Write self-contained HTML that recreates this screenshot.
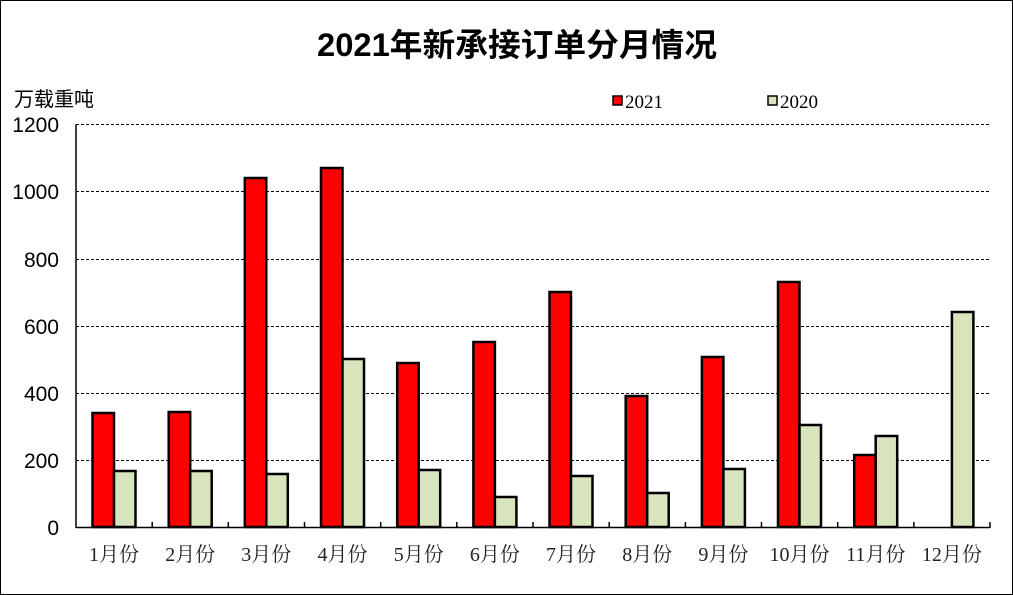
<!DOCTYPE html>
<html><head><meta charset="utf-8"><style>
html,body{margin:0;padding:0;background:#fff}
svg{display:block}
</style></head><body>
<svg width="1013" height="595" xmlns="http://www.w3.org/2000/svg">
<rect x="0.5" y="0.5" width="1012" height="594" fill="#fff" stroke="#000" stroke-width="1"/>
<text x="317" y="56" textLength="400" lengthAdjust="spacingAndGlyphs" font-family="'Liberation Sans','Noto Sans CJK SC',sans-serif" font-weight="bold" font-size="32">2021年新承接订单分月情况</text>
<text x="14" y="106" font-family="'Liberation Sans','Noto Sans CJK SC',sans-serif" font-size="20">万载重吨</text>
<g font-family="'Liberation Sans',sans-serif" font-size="21" text-anchor="end">
<text x="59" y="132">1200</text><text x="59" y="199">1000</text><text x="59" y="267">800</text>
<text x="59" y="334">600</text><text x="59" y="401">400</text><text x="59" y="468">200</text><text x="59" y="535">0</text>
</g>
<g stroke="#000" stroke-width="1" stroke-dasharray="3,2">
<line x1="76" y1="124.5" x2="990" y2="124.5"/><line x1="76" y1="191.5" x2="990" y2="191.5"/>
<line x1="76" y1="259.5" x2="990" y2="259.5"/><line x1="76" y1="326.5" x2="990" y2="326.5"/>
<line x1="76" y1="393.5" x2="990" y2="393.5"/><line x1="76" y1="460.5" x2="990" y2="460.5"/>
</g>
<g stroke="#000" stroke-width="2.5">
<rect x="92.5" y="413" width="21.5" height="114" fill="#f00"/><rect x="114" y="471" width="21.5" height="56" fill="#d8e4bc"/>
<rect x="168.7" y="412" width="21.5" height="115" fill="#f00"/><rect x="190.2" y="471" width="21.5" height="56" fill="#d8e4bc"/>
<rect x="244.8" y="178" width="21.5" height="349" fill="#f00"/><rect x="266.3" y="474" width="21.5" height="53" fill="#d8e4bc"/>
<rect x="321" y="168" width="21.5" height="359" fill="#f00"/><rect x="342.5" y="359" width="21.5" height="168" fill="#d8e4bc"/>
<rect x="397.2" y="363" width="21.5" height="164" fill="#f00"/><rect x="418.7" y="470" width="21.5" height="57" fill="#d8e4bc"/>
<rect x="473.4" y="342" width="21.5" height="185" fill="#f00"/><rect x="494.9" y="497" width="21.5" height="30" fill="#d8e4bc"/>
<rect x="549.5" y="292" width="21.5" height="235" fill="#f00"/><rect x="571" y="476" width="21.5" height="51" fill="#d8e4bc"/>
<rect x="625.7" y="396" width="21.5" height="131" fill="#f00"/><rect x="647.2" y="493" width="21.5" height="34" fill="#d8e4bc"/>
<rect x="701.9" y="357" width="21.5" height="170" fill="#f00"/><rect x="723.4" y="469" width="21.5" height="58" fill="#d8e4bc"/>
<rect x="778" y="282" width="21.5" height="245" fill="#f00"/><rect x="799.5" y="425" width="21.5" height="102" fill="#d8e4bc"/>
<rect x="854.2" y="455" width="21.5" height="72" fill="#f00"/><rect x="875.7" y="436" width="21.5" height="91" fill="#d8e4bc"/>
<rect x="951.9" y="312" width="21.5" height="215" fill="#d8e4bc"/>
</g>
<g stroke="#000" stroke-width="1.5">
<line x1="76" y1="124" x2="76" y2="528"/>
<line x1="76" y1="527.5" x2="990" y2="527.5"/>
<line x1="152.2" y1="522" x2="152.2" y2="528"/><line x1="228.3" y1="522" x2="228.3" y2="528"/>
<line x1="304.5" y1="522" x2="304.5" y2="528"/><line x1="380.7" y1="522" x2="380.7" y2="528"/>
<line x1="456.8" y1="522" x2="456.8" y2="528"/><line x1="533" y1="522" x2="533" y2="528"/>
<line x1="609.2" y1="522" x2="609.2" y2="528"/><line x1="685.4" y1="522" x2="685.4" y2="528"/>
<line x1="761.5" y1="522" x2="761.5" y2="528"/><line x1="837.7" y1="522" x2="837.7" y2="528"/>
<line x1="913.9" y1="522" x2="913.9" y2="528"/><line x1="990" y1="522" x2="990" y2="528"/>
</g>
<g font-family="'Liberation Serif','Noto Serif CJK SC',serif" font-size="20" text-anchor="middle" fill="#222">
<text x="114" y="561">1月份</text><text x="190.2" y="561">2月份</text><text x="266.3" y="561">3月份</text>
<text x="342.5" y="561">4月份</text><text x="418.7" y="561">5月份</text><text x="494.9" y="561">6月份</text>
<text x="571" y="561">7月份</text><text x="647.2" y="561">8月份</text><text x="723.4" y="561">9月份</text>
<text x="799.5" y="561">10月份</text><text x="875.7" y="561">11月份</text><text x="951.9" y="561">12月份</text>
</g>
<rect x="613" y="96" width="9" height="9" fill="#f00" stroke="#000" stroke-width="1.5"/>
<text x="625" y="108" font-family="'Liberation Serif',serif" font-size="19">2021</text>
<rect x="768" y="96" width="9" height="9" fill="#d8e4bc" stroke="#000" stroke-width="1.5"/>
<text x="780" y="108" font-family="'Liberation Serif',serif" font-size="19">2020</text>
</svg>
</body></html>
